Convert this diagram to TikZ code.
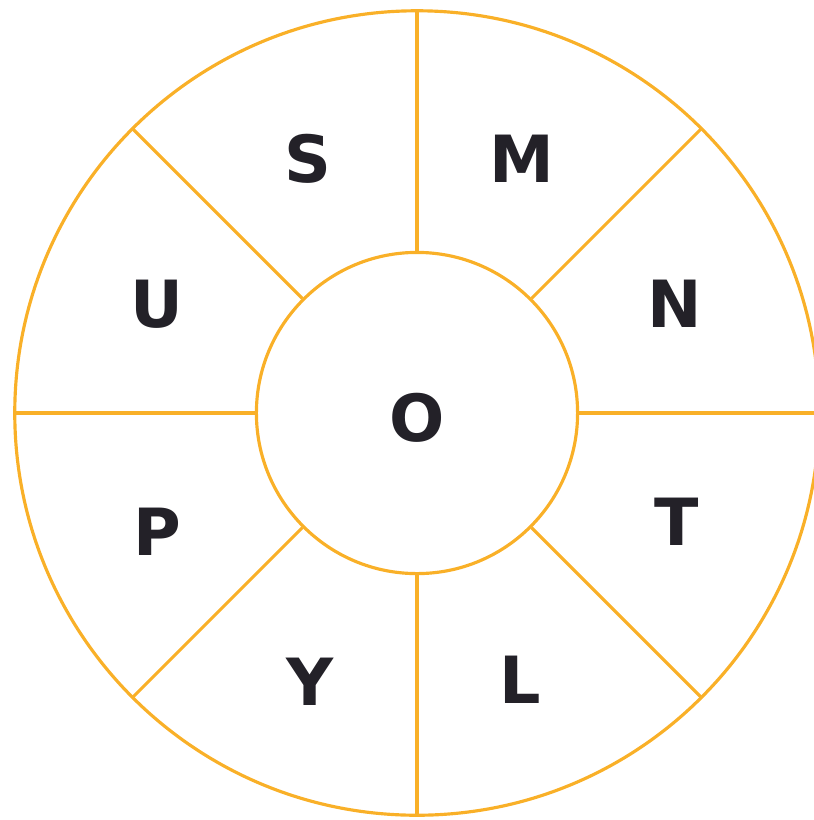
\documentclass[tikz,border=0pt]{standalone}
\usepackage{fontspec}
\setmainfont{DejaVu Sans}
\usetikzlibrary{calc}
\definecolor{ring}{RGB}{249,176,40}
\definecolor{ink}{RGB}{35,33,40}
\begin{document}
\begin{tikzpicture}[x=0.01cm,y=-0.01cm,
  ringline/.style={draw=ring,line width=0.9pt},
  letter/.style={text=ink,font=\fontsize{18.5}{20}\selectfont\bfseries,inner sep=0pt}]
\useasboundingbox (0,0) rectangle (814,820);
\begin{scope}
\clip (0,0) rectangle (814,820);
\coordinate (c) at (417,413);
\draw[ringline] (c) circle[radius=4.02cm];
\node[ringline,circle,minimum size=3.21cm,inner sep=0pt] (inner) at (c) {};
\foreach \a in {0,45,...,315}{
  \draw[ringline] (inner.\a) -- ($(c)+(\a:4.02cm)$);
}
\end{scope}
\node[letter] (S) at (308,159) {S};
\node[letter] (M) at (522,159) {M};
\node[letter] (U) at (157,304) {U};
\node[letter] (N) at (675,304) {N};
\node[letter] (O) at (417,418) {O};
\node[letter] (P) at (157,532) {P};
\node[letter] (T) at (677,522) {T};
\node[letter] (Y) at (310,682) {Y};
\node[letter] (L) at (520,680) {L};
\end{tikzpicture}
\end{document}
